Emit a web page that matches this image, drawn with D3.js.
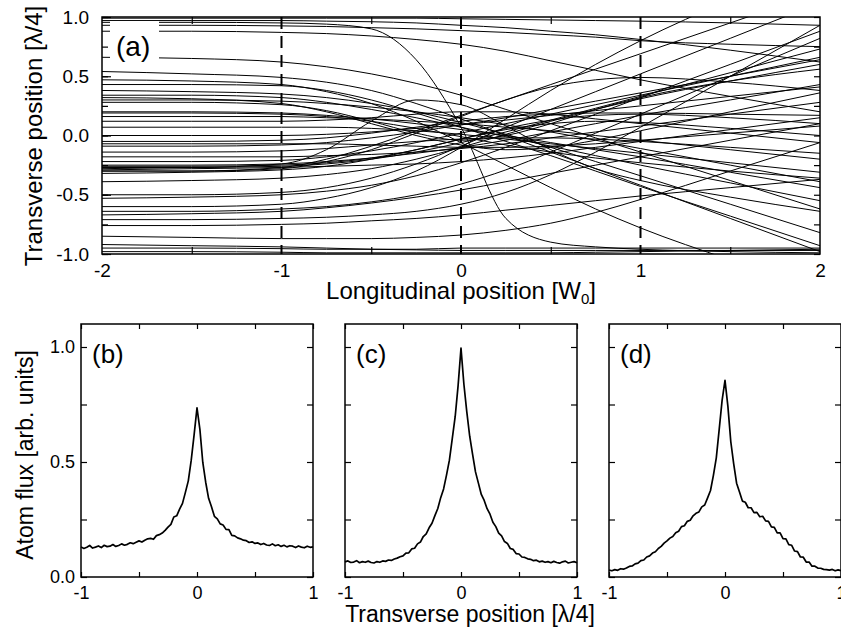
<!DOCTYPE html>
<html>
<head>
<meta charset="utf-8">
<script src="https://cdnjs.cloudflare.com/ajax/libs/d3/7.8.5/d3.min.js"></script>
<style>
  body { margin: 0; background: #fff; }
  svg text { font-family: "Liberation Sans", Arial, sans-serif; fill: #000; }
</style>
</head>
<body>
<svg id="chart" width="841" height="629"></svg>
<script>
// ---- panel (a): atom trajectories, y [lambda/4] sampled at these longitudinal positions [W0]
const zSteps = [-2, -1.5, -1, -0.75, -0.5, -0.25, 0, 0.25, 0.5, 0.75, 1, 1.5, 2];

const trajectories = [
  [0.99, 0.99, 0.99, 0.99, 0.99, 0.99, 0.985, 0.98, 0.975, 0.97, 0.965, 0.95, 0.93],
  [0.97, 0.97, 0.97, 0.965, 0.96, 0.95, 0.93, 0.91, 0.88, 0.85, 0.81, 0.72, 0.62],
  [0.955, 0.955, 0.95, 0.94, 0.9, 0.64, 0.07, -0.7, -0.9, -0.94, -0.96, -0.98, -0.99],
  [0.93, 0.93, 0.925, 0.92, 0.91, 0.9, 0.885, 0.87, 0.85, 0.83, 0.8, 0.77, 0.75],
  [0.88, 0.88, 0.87, 0.86, 0.84, 0.81, 0.77, 0.71, 0.63, 0.55, 0.47, 0.33, 0.2],
  [0.66, 0.65, 0.62, 0.58, 0.52, 0.44, 0.34, 0.22, 0.1, -0.02, -0.14, -0.38, -0.62],
  [0.54, 0.52, 0.49, 0.45, 0.38, 0.27, 0.14, 0.0, -0.14, -0.28, -0.42, -0.7, -0.98],
  [0.47, 0.46, 0.43, 0.37, 0.27, 0.12, -0.06, -0.25, -0.44, -0.62, -0.78, -1.05, -1.3],
  [0.43, 0.43, 0.42, 0.38, 0.3, 0.19, 0.07, -0.05, -0.17, -0.3, -0.43, -0.68, -0.93],
  [0.38, 0.37, 0.35, 0.32, 0.27, 0.2, 0.11, 0.01, -0.1, -0.22, -0.34, -0.58, -0.82],
  [0.34, 0.34, 0.32, 0.28, 0.22, 0.15, 0.07, -0.01, -0.09, -0.17, -0.25, -0.4, -0.55],
  [0.32, 0.31, 0.27, 0.2, 0.1, 0.0, -0.08, -0.12, -0.1, -0.04, 0.04, 0.2, 0.36],
  [0.30, 0.30, 0.29, 0.27, 0.24, 0.2, 0.15, 0.09, 0.03, -0.04, -0.11, -0.25, -0.39],
  [0.28, 0.28, 0.26, 0.21, 0.12, 0.02, -0.04, 0.0, 0.1, 0.22, 0.32, 0.46, 0.56],
  [0.2, 0.2, 0.19, 0.17, 0.14, 0.1, 0.05, 0.0, -0.06, -0.12, -0.18, -0.31, -0.44],
  [0.19, 0.19, 0.18, 0.16, 0.12, 0.06, -0.01, -0.08, -0.14, -0.19, -0.23, -0.3, -0.36],
  [0.16, 0.16, 0.16, 0.15, 0.14, 0.12, 0.1, 0.07, 0.04, 0.0, -0.04, -0.12, -0.2],
  [0.12, 0.12, 0.12, 0.13, 0.15, 0.18, 0.2, 0.2, 0.18, 0.14, 0.1, 0.02, -0.06],
  [0.07, 0.07, 0.07, 0.07, 0.06, 0.04, 0.01, -0.03, -0.07, -0.11, -0.15, -0.23, -0.31],
  [0.0, 0.0, 0.0, 0.01, 0.03, 0.06, 0.09, 0.13, 0.17, 0.21, 0.25, 0.33, 0.41],
  [-0.05, -0.05, -0.04, -0.02, 0.02, 0.07, 0.12, 0.16, 0.18, 0.19, 0.19, 0.18, 0.17],
  [-0.07, -0.07, -0.07, -0.07, -0.08, -0.09, -0.1, -0.1, -0.09, -0.07, -0.04, 0.02, 0.08],
  [-0.09, -0.09, -0.08, -0.06, -0.02, 0.03, 0.09, 0.15, 0.22, 0.29, 0.36, 0.5, 0.64],
  [-0.14, -0.14, -0.13, -0.11, -0.08, -0.05, -0.03, -0.02, -0.02, -0.03, -0.05, -0.1, -0.15],
  [-0.18, -0.18, -0.18, -0.17, -0.16, -0.14, -0.11, -0.07, -0.02, 0.03, 0.08, 0.18, 0.28],
  [-0.22, -0.22, -0.21, -0.18, -0.13, -0.06, 0.02, 0.1, 0.18, 0.26, 0.34, 0.5, 0.66],
  [-0.25, -0.25, -0.24, -0.22, -0.19, -0.15, -0.1, -0.04, 0.03, 0.1, 0.17, 0.3, 0.43],
  [-0.26, -0.26, -0.25, -0.23, -0.19, -0.12, -0.03, 0.06, 0.13, 0.17, 0.18, 0.15, 0.1],
  [-0.27, -0.27, -0.24, -0.12, 0.12, 0.3, 0.26, 0.08, -0.12, -0.28, -0.38, -0.52, -0.64],
  [-0.28, -0.27, -0.26, -0.24, -0.2, -0.14, -0.06, 0.03, 0.13, 0.23, 0.33, 0.53, 0.73],
  [-0.29, -0.28, -0.27, -0.26, -0.25, -0.24, -0.22, -0.19, -0.15, -0.1, -0.05, 0.05, 0.15],
  [-0.3, -0.3, -0.27, -0.2, -0.09, 0.04, 0.17, 0.3, 0.43, 0.56, 0.69, 0.95, 1.21],
  [-0.3, -0.3, -0.28, -0.22, -0.12, 0.02, 0.16, 0.3, 0.41, 0.47, 0.49, 0.45, 0.38],
  [-0.32, -0.31, -0.29, -0.26, -0.2, -0.12, -0.03, 0.05, 0.1, 0.12, 0.11, 0.06, 0.0],
  [-0.39, -0.38, -0.36, -0.33, -0.28, -0.2, -0.1, 0.01, 0.12, 0.22, 0.31, 0.46, 0.6],
  [-0.5, -0.5, -0.48, -0.44, -0.36, -0.24, -0.09, 0.07, 0.22, 0.37, 0.52, 0.82, 1.12],
  [-0.53, -0.52, -0.5, -0.47, -0.42, -0.34, -0.23, -0.1, 0.04, 0.18, 0.32, 0.6, 0.88],
  [-0.6, -0.6, -0.58, -0.53, -0.44, -0.3, -0.1, 0.14, 0.38, 0.6, 0.8, 1.15, 1.5],
  [-0.64, -0.64, -0.62, -0.6, -0.56, -0.5, -0.41, -0.29, -0.14, 0.02, 0.18, 0.5, 0.82],
  [-0.67, -0.66, -0.64, -0.61, -0.57, -0.52, -0.46, -0.39, -0.32, -0.25, -0.18, -0.04, 0.1],
  [-0.71, -0.71, -0.7, -0.69, -0.67, -0.64, -0.58, -0.48, -0.33, -0.14, 0.07, 0.5, 0.93],
  [-0.76, -0.76, -0.75, -0.74, -0.72, -0.7, -0.67, -0.63, -0.59, -0.55, -0.51, -0.44, -0.37],
  [-0.85, -0.86, -0.87, -0.87, -0.87, -0.86, -0.84, -0.8, -0.74, -0.65, -0.54, -0.3, -0.06],
  [-0.92, -0.93, -0.94, -0.95, -0.96, -0.965, -0.97, -0.97, -0.97, -0.97, -0.97, -0.97, -0.97],
  [-0.95, -0.95, -0.955, -0.96, -0.96, -0.96, -0.95, -0.95, -0.95, -0.95, -0.95, -0.95, -0.95],
  [-0.98, -0.98, -0.985, -0.99, -0.99, -0.99, -0.99, -0.99, -0.99, -0.985, -0.98, -0.97, -0.96]
];

const beamMarks = [-1, 0, 1];   // dashed verticals [W0]
const aXLabels = [-2, -1, 0, 1, 2];
const aXTicks = [-1.5, -0.5, 0.5, 1.5];
const aYLabels = [-1, -0.5, 0, 0.5, 1];
const aYTicks = [-1, -0.75, -0.5, -0.25, 0, 0.25, 0.5, 0.75, 1];

// ---- panels (b)-(d): atom flux profiles on a common transverse grid [lambda/4]
const transverseGrid = [
  -1, -0.975, -0.95, -0.925, -0.9, -0.875, -0.85, -0.825, -0.8, -0.775,
  -0.75, -0.725, -0.7, -0.675, -0.65, -0.625, -0.6, -0.575, -0.55, -0.525,
  -0.5, -0.475, -0.45, -0.425, -0.4, -0.375, -0.35, -0.325, -0.3, -0.275,
  -0.25, -0.225, -0.2, -0.175, -0.15, -0.125, -0.1, -0.075, -0.05, -0.025,
  0,
  0.025, 0.05, 0.075, 0.1, 0.125, 0.15, 0.175, 0.2, 0.225, 0.25,
  0.275, 0.3, 0.325, 0.35, 0.375, 0.4, 0.425, 0.45, 0.475, 0.5,
  0.525, 0.55, 0.575, 0.6, 0.625, 0.65, 0.675, 0.7, 0.725, 0.75,
  0.775, 0.8, 0.825, 0.85, 0.875, 0.9, 0.925, 0.95, 0.975, 1
];

const fluxB = [
  0.131, 0.124, 0.129, 0.137, 0.126, 0.130, 0.135, 0.128, 0.138, 0.132,
  0.134, 0.141, 0.133, 0.137, 0.144, 0.138, 0.142, 0.149, 0.145, 0.151,
  0.157, 0.152, 0.160, 0.166, 0.168, 0.164, 0.180, 0.184, 0.191, 0.203,
  0.217, 0.229, 0.261, 0.266, 0.295, 0.320, 0.368, 0.418, 0.507, 0.618,
  0.735,
  0.642, 0.498, 0.412, 0.342, 0.305, 0.264, 0.253, 0.231, 0.226, 0.207,
  0.206, 0.181, 0.179, 0.170, 0.166, 0.160, 0.158, 0.150, 0.153, 0.146,
  0.148, 0.141, 0.146, 0.139, 0.137, 0.144, 0.136, 0.140, 0.133, 0.138,
  0.131, 0.136, 0.134, 0.128, 0.135, 0.130, 0.127, 0.134, 0.129, 0.131
];

const fluxC = [
  0.066, 0.070, 0.063, 0.065, 0.071, 0.062, 0.067, 0.064, 0.069, 0.063,
  0.061, 0.067, 0.064, 0.070, 0.068, 0.074, 0.072, 0.078, 0.082, 0.088,
  0.092, 0.104, 0.105, 0.122, 0.125, 0.144, 0.152, 0.176, 0.188, 0.214,
  0.234, 0.267, 0.298, 0.345, 0.383, 0.443, 0.508, 0.603, 0.698, 0.832,
  0.995,
  0.838, 0.718, 0.612, 0.533, 0.457, 0.408, 0.359, 0.333, 0.297, 0.273,
  0.238, 0.219, 0.191, 0.179, 0.154, 0.146, 0.124, 0.120, 0.102, 0.100,
  0.087, 0.085, 0.079, 0.077, 0.071, 0.073, 0.066, 0.069, 0.064, 0.067,
  0.062, 0.068, 0.063, 0.060, 0.066, 0.069, 0.061, 0.064, 0.067, 0.062
];

const fluxD = [
  0.030, 0.027, 0.032, 0.029, 0.036, 0.034, 0.039, 0.046, 0.048, 0.057,
  0.060, 0.071, 0.074, 0.087, 0.092, 0.104, 0.110, 0.124, 0.133, 0.147,
  0.157, 0.169, 0.176, 0.192, 0.199, 0.219, 0.223, 0.242, 0.247, 0.266,
  0.277, 0.283, 0.305, 0.313, 0.344, 0.376, 0.442, 0.518, 0.642, 0.768,
  0.855,
  0.742, 0.588, 0.492, 0.408, 0.370, 0.330, 0.325, 0.301, 0.301, 0.280,
  0.281, 0.262, 0.264, 0.244, 0.242, 0.218, 0.216, 0.192, 0.192, 0.167,
  0.166, 0.141, 0.138, 0.113, 0.110, 0.087, 0.086, 0.065, 0.065, 0.047,
  0.047, 0.039, 0.038, 0.033, 0.032, 0.030, 0.033, 0.027, 0.031, 0.028
];

const profiles = [
  { tag: "(b)", flux: fluxB, showY: true },
  { tag: "(c)", flux: fluxC, showY: false },
  { tag: "(d)", flux: fluxD, showY: false }
];
const bXLabels = [-1, 0, 1];
const bXTicks = [-1, -0.5, 0, 0.5, 1];
const bYLabels = [0, 0.5, 1];
const bYTicks = [0, 0.25, 0.5, 0.75, 1];

const svg = d3.select("#chart");
const font = "'Liberation Sans', Arial, sans-serif";
// plain hyphen for negatives, as in the original figure
const fmtInt = d => (d < 0 ? "-" : "") + Math.abs(d).toFixed(0);
const fmtOne = d => (d < 0 ? "-" : "") + Math.abs(d).toFixed(1);

function styleAxis(g, size) {
  g.attr("font-family", font).attr("font-size", size);
  g.select(".domain").remove();
  g.selectAll(".tick line").attr("stroke", "#000").attr("stroke-width", 1.2);
  g.selectAll(".tick text").attr("fill", "#000");
}

// ================= panel (a) =================
const A = { left: 102, right: 820, top: 17, bottom: 254 };
const xA = d3.scaleLinear().domain([-2, 2]).range([A.left, A.right]);
const yA = d3.scaleLinear().domain([-1, 1]).range([A.bottom, A.top]);

svg.append("clipPath").attr("id", "clipA")
  .append("rect").attr("x", A.left).attr("y", A.top)
  .attr("width", A.right - A.left).attr("height", A.bottom - A.top);

const lineA = d3.line()
  .x((d, i) => xA(zSteps[i]))
  .y(d => yA(d))
  .curve(d3.curveMonotoneX);

svg.append("g").attr("clip-path", "url(#clipA)")
  .selectAll("path").data(trajectories).join("path")
  .attr("d", lineA)
  .attr("fill", "none").attr("stroke", "#000").attr("stroke-width", 1);

svg.append("g").selectAll("line").data(beamMarks).join("line")
  .attr("x1", d => xA(d)).attr("x2", d => xA(d))
  .attr("y1", A.top).attr("y2", A.bottom)
  .attr("stroke", "#000").attr("stroke-width", 2).attr("stroke-dasharray", "12,7");

// label (a) with white box
svg.append("rect").attr("x", 110).attr("y", 21).attr("width", 49).attr("height", 43).attr("fill", "#fff");
svg.append("text").attr("x", 116).attr("y", 56).attr("font-size", 28).text("(a)");

// axes
svg.append("g").attr("transform", `translate(0,${A.bottom})`)
  .call(d3.axisBottom(xA).tickValues(aXLabels).tickSize(0).tickPadding(10).tickFormat(fmtInt))
  .call(g => styleAxis(g, 19));
svg.append("g").attr("transform", `translate(0,${A.bottom})`)
  .call(d3.axisBottom(xA).tickValues(aXTicks).tickSize(-7).tickFormat(""))
  .call(g => styleAxis(g, 19));
svg.append("g").attr("transform", `translate(0,${A.top})`)
  .call(d3.axisTop(xA).tickValues(aXTicks).tickSize(-7).tickFormat(""))
  .call(g => styleAxis(g, 19));
svg.append("g").attr("transform", `translate(${A.left},0)`)
  .call(d3.axisLeft(yA).tickValues(aYLabels).tickSize(-9).tickPadding(13).tickFormat(fmtOne))
  .call(g => styleAxis(g, 19));
svg.append("g").attr("transform", `translate(${A.left},0)`)
  .call(d3.axisLeft(yA).tickValues(aYTicks).tickSize(-6).tickFormat(""))
  .call(g => styleAxis(g, 19));
svg.append("g").attr("transform", `translate(${A.right},0)`)
  .call(d3.axisRight(yA).tickValues(aYTicks).tickSize(-6).tickFormat(""))
  .call(g => styleAxis(g, 19));

svg.append("rect").attr("x", A.left).attr("y", A.top)
  .attr("width", A.right - A.left).attr("height", A.bottom - A.top)
  .attr("fill", "none").attr("stroke", "#000").attr("stroke-width", 1.5);

const tA = svg.append("text").attr("x", 461).attr("y", 299)
  .attr("text-anchor", "middle").attr("font-size", 24);
tA.append("tspan").text("Longitudinal position [W");
tA.append("tspan").attr("font-size", 15).attr("dy", 5).text("0");
tA.append("tspan").attr("dy", -5).text("]");

svg.append("text")
  .attr("transform", "translate(42,136) rotate(-90)")
  .attr("text-anchor", "middle").attr("font-size", 24)
  .text("Transverse position [\u03bb/4]");

// ================= panels (b)-(d) =================
const B = { top: 324, bottom: 577, width: 232 };
const lefts = [81, 345, 609];
const yB = d3.scaleLinear().domain([0, 1.1]).range([B.bottom, B.top]);

profiles.forEach((p, k) => {
  const x0 = lefts[k];
  const xB = d3.scaleLinear().domain([-1, 1]).range([x0, x0 + B.width]);
  const g = svg.append("g");

  g.append("path")
    .datum(p.flux)
    .attr("d", d3.line().x((d, i) => xB(transverseGrid[i])).y(d => yB(d)))
    .attr("fill", "none").attr("stroke", "#000").attr("stroke-width", 1.7)
    .attr("stroke-linejoin", "round");

  g.append("g").attr("transform", `translate(0,${B.bottom})`)
    .call(d3.axisBottom(xB).tickValues(bXLabels).tickSize(0).tickPadding(9).tickFormat(fmtInt))
    .call(a => styleAxis(a, 18));
  g.append("g").attr("transform", `translate(0,${B.bottom})`)
    .call(d3.axisBottom(xB).tickValues(bXTicks).tickSize(-5).tickFormat(""))
    .call(a => styleAxis(a, 18));
  g.append("g").attr("transform", `translate(0,${B.top})`)
    .call(d3.axisTop(xB).tickValues(bXTicks).tickSize(-5).tickFormat(""))
    .call(a => styleAxis(a, 18));
  g.append("g").attr("transform", `translate(${x0},0)`)
    .call(d3.axisLeft(yB).tickValues(p.showY ? bYLabels : []).tickSize(0).tickPadding(6).tickFormat(fmtOne))
    .call(a => styleAxis(a, 18));
  g.append("g").attr("transform", `translate(${x0},0)`)
    .call(d3.axisLeft(yB).tickValues(bYTicks).tickSize(-6).tickFormat(""))
    .call(a => styleAxis(a, 18));
  g.append("g").attr("transform", `translate(${x0 + B.width},0)`)
    .call(d3.axisRight(yB).tickValues(bYTicks).tickSize(-6).tickFormat(""))
    .call(a => styleAxis(a, 18));

  g.append("rect").attr("x", x0).attr("y", B.top)
    .attr("width", B.width).attr("height", B.bottom - B.top)
    .attr("fill", "none").attr("stroke", "#000").attr("stroke-width", 1.5);

  g.append("text").attr("x", x0 + 11).attr("y", 363).attr("font-size", 26).text(p.tag);
});

svg.append("text")
  .attr("transform", "translate(33,455) rotate(-90)")
  .attr("text-anchor", "middle").attr("font-size", 23)
  .text("Atom flux [arb. units]");

svg.append("text").attr("x", 470).attr("y", 622)
  .attr("text-anchor", "middle").attr("font-size", 23)
  .text("Transverse position [\u03bb/4]");
</script>
</body>
</html>
